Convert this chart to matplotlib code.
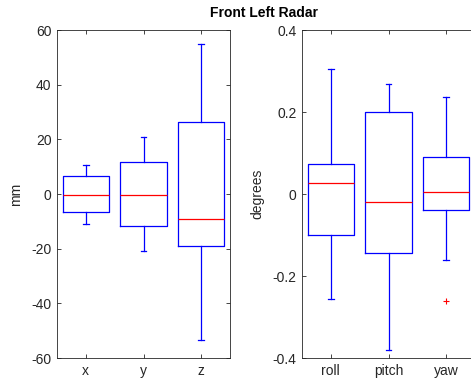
import matplotlib.pyplot as plt

plt.rcParams['font.family'] = ['Liberation Sans', 'DejaVu Sans']

# Position box stats (mm)
pos_labels = ['x', 'y', 'z']
pos_med = [-0.5, -0.4, -9.0]
pos_q1 = [-6.7, -11.6, -18.9]
pos_q3 = [6.7, 11.6, 26.5]
pos_lo = [-11.1, -20.7, -53.5]
pos_hi = [10.7, 20.9, 54.9]
pos_fliers = [[], [], []]

# Orientation box stats (degrees)
ang_labels = ['roll', 'pitch', 'yaw']
ang_med = [0.028, -0.020, 0.004]
ang_q1 = [-0.099, -0.144, -0.038]
ang_q3 = [0.073, 0.201, 0.091]
ang_lo = [-0.255, -0.380, -0.160]
ang_hi = [0.306, 0.268, 0.237]
ang_fliers = [[], [], [-0.262]]

W, H = 471, 386
fig = plt.figure(figsize=(W / 100, H / 100), dpi=100)

axc = '#262626'


def make_stats(labels, med, q1, q3, lo, hi, fl):
    return [dict(label=l, med=m, q1=a, q3=b, whislo=c, whishi=d, fliers=f)
            for l, m, a, b, c, d, f in zip(labels, med, q1, q3, lo, hi, fl)]


def draw(ax, stats, ylim, yticks, yticklabels, ylabel, labelx):
    ax.bxp(stats, widths=0.8, showfliers=True,
           boxprops=dict(color='blue', linewidth=0.9),
           whiskerprops=dict(color='blue', linewidth=0.9, linestyle='-'),
           capprops=dict(color='blue', linewidth=0.9),
           medianprops=dict(color='red', linewidth=0.9),
           flierprops=dict(marker='+', markeredgecolor='red', markersize=5,
                           markeredgewidth=0.8, linestyle='none'),
           capwidths=0.1)
    ax.set_xlim(0.5, 3.5)
    ax.set_ylim(*ylim)
    ax.set_yticks(yticks)
    ax.set_yticklabels(yticklabels)
    ax.set_ylabel(ylabel, fontsize=10, color=axc)
    ax.yaxis.set_label_coords(labelx, 0.5)
    ax.tick_params(direction='in', length=3, width=0.6, top=True, right=True,
                   labelsize=10, colors=axc, pad=4)
    for s in ax.spines.values():
        s.set_color(axc)
        s.set_linewidth(0.6)


ax1 = fig.add_axes([57 / W, 28 / H, 173 / W, 328 / H])
draw(ax1, make_stats(pos_labels, pos_med, pos_q1, pos_q3, pos_lo, pos_hi, pos_fliers),
     (-60, 60), [-60, -40, -20, 0, 20, 40, 60],
     ['-60', '-40', '-20', '0', '20', '40', '60'], 'mm', -0.197)

ax2 = fig.add_axes([302 / W, 28 / H, 173 / W, 328 / H])
draw(ax2, make_stats(ang_labels, ang_med, ang_q1, ang_q3, ang_lo, ang_hi, ang_fliers),
     (-0.4, 0.4), [-0.4, -0.2, 0, 0.2, 0.4],
     ['-0.4', '-0.2', '0', '0.2', '0.4'], 'degrees', -0.22)

fig.text(264 / W, 1 - 13 / H, 'Front Left Radar', ha='center', va='center',
         fontsize=10, fontweight='bold')

fig.savefig('out.png', dpi=100)
